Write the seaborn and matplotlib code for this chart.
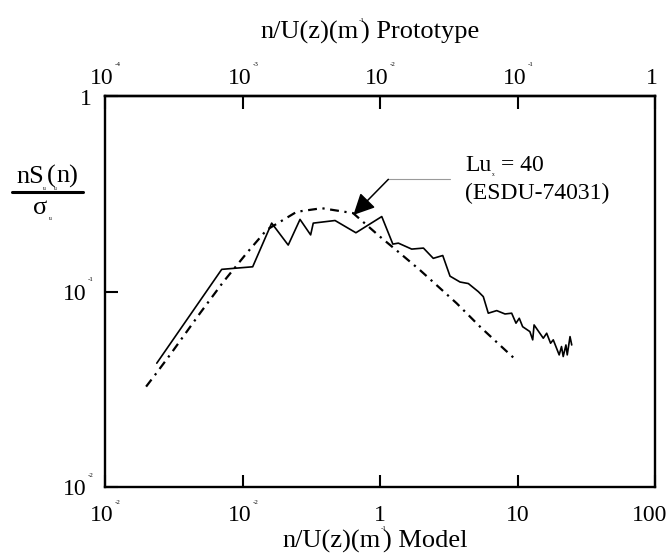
import matplotlib
matplotlib.use("Agg")
import numpy as np
import pandas as pd
import matplotlib.pyplot as plt
import seaborn as sns
from matplotlib.lines import Line2D
from matplotlib.ticker import NullLocator, NullFormatter, FixedLocator

# ---------------- data ----------------
measured_freq = [0.0238, 0.0706, 0.1186, 0.163, 0.215, 0.262, 0.313, 0.327, 0.471, 0.668,
                 1.03, 1.24, 1.36, 1.70, 2.07, 2.44, 2.86, 3.23, 3.82, 4.39, 5.19, 5.64,
                 6.13, 7.06, 8.11, 9.07, 9.75, 10.3, 10.9, 12.3, 12.9, 13.2, 15.4, 16.3,
                 17.4, 18.2, 20.1, 20.9, 21.5, 22.5, 23.0, 24.1, 24.8]
measured_spec = [0.0431, 0.130, 0.134, 0.224, 0.173, 0.234, 0.195, 0.224, 0.231, 0.200,
                 0.242, 0.175, 0.177, 0.165, 0.167, 0.148, 0.153, 0.120, 0.112, 0.110, 0.100, 0.0943,
                 0.0776, 0.080, 0.0769, 0.0776, 0.069, 0.0731, 0.0662, 0.0625, 0.0567, 0.0676, 0.0578, 0.0613,
                 0.0545, 0.0567, 0.0475, 0.0524, 0.0466, 0.0534, 0.0475, 0.0589, 0.0534]

esdu_freq = [0.0199, 0.0231, 0.0297, 0.0491, 0.0724, 0.107, 0.150, 0.248, 0.377, 0.637,
             1.0, 1.40, 1.95, 3.61, 5.34, 8.11, 9.44]
esdu_spec = [0.0327, 0.0375, 0.0475, 0.0776, 0.112, 0.157, 0.207, 0.256, 0.267, 0.252,
             0.191, 0.157, 0.129, 0.0872, 0.0662, 0.0504, 0.0457]

model_ticks = [0.01, 0.1, 1, 10, 100]
model_tick_labels = [("10", "-2"), ("10", "-2"), ("1", ""), ("10", ""), ("100", "")]
proto_ticks = [1e-4, 1e-3, 1e-2, 1e-1, 1]
proto_tick_labels = [("10", "-4"), ("10", "-3"), ("10", "-2"), ("10", "-1"), ("1", "")]
y_ticks = [0.01, 0.1, 1]
y_tick_labels = [("10", "-2"), ("10", "-1"), ("1", "")]
PROTO_SCALE = 0.01

x_label_parts = ["n/U(z)(m", ") Model", "-1"]
top_label_parts = ["n/U(z)(m", ") Prototype", "-1"]
y_label_num = ["nS", "(", "n)", "u"]
y_label_den = ["σ", "u"]
annot_text = ["Lu", "x", "= 40", "(ESDU-74031)"]
arrow_tip = (0.64, 0.2465)
arrow_tail = (1.15, 0.375)
leader_end = (3.23, 0.375)

# ---------------- styling ----------------
sns.set_theme(style="white")
plt.rcParams["font.family"] = ["Liberation Serif", "DejaVu Serif"]
plt.rcParams["text.color"] = "black"

W, H = 671, 555
fig = plt.figure(figsize=(W / 100, H / 100), dpi=100)
L, R, T, B = 105, 655, 96, 487.3
ax = fig.add_axes([L / W, 1 - B / H, (R - L) / W, (B - T) / H])
ax.set_xscale("log")
ax.set_yscale("log")

df_m = pd.DataFrame({"freq": measured_freq, "spec": measured_spec})
df_e = pd.DataFrame({"freq": esdu_freq, "spec": esdu_spec})
sns.lineplot(data=df_m, x="freq", y="spec", estimator=None, sort=False,
             color="black", lw=1.2, ax=ax)
sns.lineplot(data=df_e, x="freq", y="spec", estimator=None, sort=False,
             color="black", lw=1.6, linestyle=(0, (4, 2.5, 1, 2.5)), ax=ax)

ax.set_xlim(model_ticks[0], model_ticks[-1])
ax.set_ylim(y_ticks[0], y_ticks[-1])
ax.xaxis.set_major_locator(FixedLocator(model_ticks))
ax.yaxis.set_major_locator(FixedLocator(y_ticks))
for a in (ax.xaxis, ax.yaxis):
    a.set_minor_locator(NullLocator())
    a.set_major_formatter(NullFormatter())
    a.set_minor_formatter(NullFormatter())
ax.set_xlabel("")
ax.set_ylabel("")
ax.tick_params(direction="in", length=9, width=1.5, color="black",
               bottom=True, left=True, top=False, right=False)
for s in ax.spines.values():
    s.set_color("black")
    s.set_linewidth(1.7)

sec = ax.secondary_xaxis("top", functions=(lambda x: x * PROTO_SCALE,
                                           lambda x: x / PROTO_SCALE))
sec.xaxis.set_major_locator(FixedLocator(proto_ticks))
sec.xaxis.set_minor_locator(NullLocator())
sec.xaxis.set_major_formatter(NullFormatter())
sec.xaxis.set_minor_formatter(NullFormatter())
sec.tick_params(direction="in", length=9, width=1.5, color="black")
sec.spines["top"].set_linewidth(1.7)
sec.spines["top"].set_color("black")

# annotation arrow + leader line
ax.plot([arrow_tail[0], leader_end[0]], [arrow_tail[1], leader_end[1]],
        color="#9a9a9a", lw=0.8)
ax.annotate("", xy=arrow_tip, xytext=arrow_tail,
            arrowprops=dict(arrowstyle="-|>,head_length=0.65,head_width=0.32",
                            color="black", lw=1.1, mutation_scale=20,
                            shrinkA=0, shrinkB=0))

# ---------------- text helpers (pixel coords from top-left) ----------------
def put(x, y, s, size=17, ha="left", va="baseline"):
    return fig.text(x / W, 1 - y / H, s, fontsize=size, ha=ha, va=va, color="black")

def d2p(xv, yv):
    dx, dy = ax.transData.transform((xv, yv))
    return dx, H - dy

fig.canvas.draw()
rend = fig.canvas.get_renderer()

def width(s, size):
    t = fig.text(0, 0, s, fontsize=size)
    w = t.get_window_extent(rend).width
    t.remove()
    return w

# bottom tick labels
for v, (b, e) in zip(model_ticks, model_tick_labels):
    X, _ = d2p(v, 0.1)
    if e:
        put(X - 3, 521, b, ha="center")
        put(X + 13, 502, e, size=5, ha="center", va="center")
    elif v == model_ticks[-1]:
        put(X - 5, 521, b, ha="center")
    else:
        put(X, 521, b, ha="center")

# top tick labels
for v, (b, e) in zip(proto_ticks, proto_tick_labels):
    X, _ = d2p(v / PROTO_SCALE, 0.1)
    if e:
        put(X - 3, 84, b, ha="center")
        put(X + 13, 65, e, size=5, ha="center", va="center")
    else:
        put(X - 3, 84, b, ha="center")

# left tick labels
for v, (b, e) in zip(y_ticks, y_tick_labels):
    _, Y = d2p(1, v)
    if e:
        put(L - 18.5, Y + 8, b, ha="right")
        put(L - 14.5, Y - 12, e, size=5, ha="center", va="center")
    else:
        put(L - 13, Y + 9, b, ha="right")

# axis titles with tiny superscript
def axis_title(parts, cx, base, size=19):
    a, b, sup = parts
    wa, wb = width(a, size), width(b, size)
    x0 = cx - (wa + wb + 2) / 2
    put(x0, base, a, size=size)
    put(x0 + wa + 2, base, b, size=size)
    put(x0 + wa + 3, base - 19, sup, size=5, ha="center", va="center")

axis_title(top_label_parts, 370, 39)
axis_title(x_label_parts, 375, 548)

# y label as fraction
num_size = 19
w_ns = width(y_label_num[0], num_size)
w_p = width(y_label_num[1], num_size)
w_n = width(y_label_num[2], num_size)
g1, g2 = 3, 1
total = w_ns + g1 + w_p + g2 + w_n
x0 = 47.5 - total / 2
put(x0, 183, y_label_num[0], size=num_size)
put(x0 + w_ns, 188, y_label_num[3], size=4, ha="center", va="center")
put(x0 + w_ns + g1, 183, y_label_num[1], size=num_size)
put(x0 + w_ns + g1 + w_p, 188, y_label_num[3], size=4, ha="center", va="center")
put(x0 + w_ns + g1 + w_p + g2, 183, y_label_num[2], size=num_size)
fig.add_artist(Line2D([11.7 / W, 83.3 / W], [1 - 191.7 / H, 1 - 191.7 / H],
                      color="black", lw=2.2, transform=fig.transFigure))
put(40, 214, y_label_den[0], size=num_size, ha="center")
put(50, 218, y_label_den[1], size=4, ha="center", va="center")

# annotation text
put(465, 171, annot_text[0])
put(493, 175, annot_text[1], size=4, ha="center", va="center")
put(501, 171, annot_text[2])
put(465, 199, annot_text[3])

fig.savefig("out.png", dpi=100, facecolor="white")
